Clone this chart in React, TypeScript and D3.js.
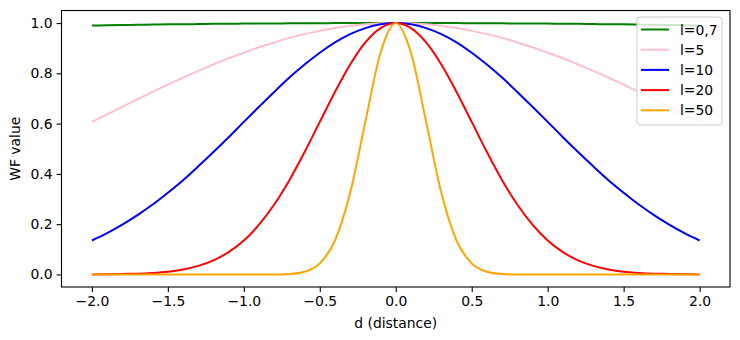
import * as d3 from "d3";
import { useEffect, useRef } from "react";

// distance samples, -2.0 .. 2.0 in steps of 0.1
const dist = [
  -2.0, -1.9, -1.8, -1.7, -1.6, -1.5, -1.4, -1.3, -1.2, -1.1, -1.0, -0.9, -0.8, -0.7, -0.6, -0.5, -0.4, -0.3, -0.2, -0.1,
  0.0, 0.1, 0.2, 0.3, 0.4, 0.5, 0.6, 0.7, 0.8, 0.9, 1.0, 1.1, 1.2, 1.3, 1.4, 1.5, 1.6, 1.7, 1.8, 1.9, 2.0,
];

// half curves read from d = 0 .. 2.0 (mirrored for negative d)
const halfL07 = [1, 1, 1, 1, 1, 0.999, 0.999, 0.999, 0.998, 0.998, 0.998, 0.997, 0.997, 0.996, 0.995, 0.995, 0.994, 0.993, 0.992, 0.991, 0.99];
const halfL5 = [1, 0.999, 0.995, 0.989, 0.98, 0.969, 0.956, 0.941, 0.923, 0.904, 0.882, 0.86, 0.835, 0.81, 0.783, 0.755, 0.726, 0.697, 0.667, 0.637, 0.607];
const halfL10 = [1, 0.995, 0.98, 0.956, 0.923, 0.882, 0.835, 0.783, 0.726, 0.667, 0.607, 0.546, 0.487, 0.43, 0.375, 0.325, 0.278, 0.236, 0.198, 0.164, 0.135];
const halfL20 = [1, 0.98, 0.923, 0.835, 0.726, 0.607, 0.487, 0.375, 0.278, 0.198, 0.135, 0.089, 0.056, 0.034, 0.02, 0.011, 0.006, 0.003, 0.002, 0.001, 0.0];
const halfL50 = [1, 0.882, 0.607, 0.325, 0.135, 0.044, 0.011, 0.002, 0, 0, 0, 0, 0, 0, 0, 0, 0, 0, 0, 0, 0];

const labels = ["l=0,7", "l=5", "l=10", "l=20", "l=50"];
const colors = ["green", "pink", "blue", "red", "orange"];
const xTicks = [-2.0, -1.5, -1.0, -0.5, 0.0, 0.5, 1.0, 1.5, 2.0];
const yTicks = [0.0, 0.2, 0.4, 0.6, 0.8, 1.0];

const mirror = (h: number[]) => [...h.slice(1).reverse(), ...h];

export default function App() {
  const ref = useRef<SVGSVGElement>(null);

  useEffect(() => {
    const svg = d3.select(ref.current);
    svg.selectAll("*").remove();

    const left = 61.5, right = 730, top = 10.5, bottom = 287;
    const x = d3.scaleLinear().domain([-2.2, 2.2]).range([left, right]);
    const y = d3.scaleLinear().domain([-0.05, 1.05]).range([bottom, top]);

    const series = [halfL07, halfL5, halfL10, halfL20, halfL50].map(mirror);

    const clip = svg.append("clipPath").attr("id", "plotclip");
    clip.append("rect").attr("x", left).attr("y", top).attr("width", right - left).attr("height", bottom - top);

    const line = d3
      .line<number>()
      .x((_, i) => x(dist[i]))
      .y((d) => y(d))
      .curve(d3.curveMonotoneX);

    const g = svg.append("g").attr("clip-path", "url(#plotclip)");
    series.forEach((s, i) => {
      g.append("path")
        .attr("d", line(s))
        .attr("fill", "none")
        .attr("stroke", colors[i])
        .attr("stroke-width", 2)
        .attr("stroke-linejoin", "round");
    });

    const font = "DejaVu Sans, sans-serif";

    const xa = svg
      .append("g")
      .attr("transform", `translate(0,${bottom})`)
      .call(d3.axisBottom(x).tickValues(xTicks).tickFormat(d3.format(".1f")).tickSizeOuter(0).tickSize(4.9).tickPadding(4));
    xa.select(".domain").remove();
    xa.selectAll("line").attr("stroke-width", 1.1);
    xa.selectAll("text")
      .attr("font-size", 13.9)
      .attr("font-family", font)
      .attr("fill", "black")
      .text((d: any) => d3.format(".1f")(d).replace("-", "\u2212"));

    const ya = svg
      .append("g")
      .attr("transform", `translate(${left},0)`)
      .call(d3.axisLeft(y).tickValues(yTicks).tickFormat(d3.format(".1f")).tickSizeOuter(0).tickSize(4.9).tickPadding(4));
    ya.select(".domain").remove();
    ya.selectAll("line").attr("stroke-width", 1.1);
    ya.selectAll("text")
      .attr("font-size", 13.9)
      .attr("font-family", font)
      .attr("fill", "black");

    svg
      .append("rect")
      .attr("x", left)
      .attr("y", top)
      .attr("width", right - left)
      .attr("height", bottom - top)
      .attr("fill", "none")
      .attr("stroke", "black")
      .attr("stroke-width", 1.1);

    svg
      .append("text")
      .attr("x", (left + right) / 2)
      .attr("y", 328)
      .attr("text-anchor", "middle")
      .attr("font-size", 13.9)
      .attr("font-family", font)
      .text("d (distance)");

    svg
      .append("text")
      .attr("transform", `translate(20,${(top + bottom) / 2}) rotate(-90)`)
      .attr("text-anchor", "middle")
      .attr("font-size", 13.9)
      .attr("font-family", font)
      .text("WF value");

    // legend
    const lg = svg.append("g");
    lg.append("rect")
      .attr("x", 637)
      .attr("y", 17)
      .attr("width", 85)
      .attr("height", 108)
      .attr("rx", 3)
      .attr("fill", "white")
      .attr("fill-opacity", 0.8)
      .attr("stroke", "#cccccc")
      .attr("stroke-width", 1);
    labels.forEach((lab, i) => {
      const cy = 29.5 + i * 20.2;
      lg.append("line")
        .attr("x1", 641)
        .attr("x2", 669)
        .attr("y1", cy)
        .attr("y2", cy)
        .attr("stroke", colors[i])
        .attr("stroke-width", 2);
      lg.append("text")
        .attr("x", 680)
        .attr("y", cy)
        .attr("dy", "0.36em")
        .attr("font-size", 13.9)
        .attr("font-family", font)
        .text(lab);
    });
  }, []);

  return (
    <svg
      ref={ref}
      width={740}
      height={340}
      style={{ position: "absolute", left: 0, top: 0, background: "white" }}
    />
  );
}
